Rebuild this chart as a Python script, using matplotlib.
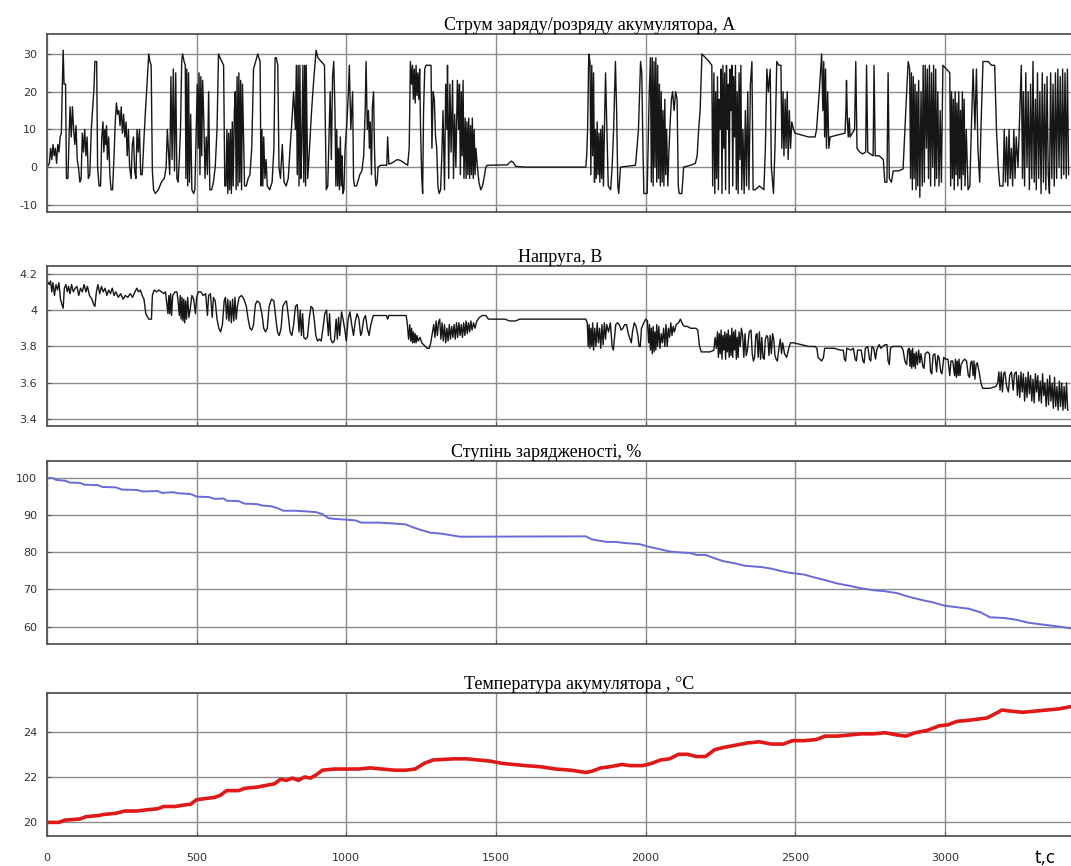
import numpy as np
import matplotlib
matplotlib.use("Agg")
import matplotlib.pyplot as plt

plt.rcParams['axes.unicode_minus'] = False

# battery test log
# current, A  (t, value)
current_pts = [
    (0, 0), (8, 1), (12, 5), (16, 2), (20, 6), (24, 3), (28, 5), (32, 1), (36, 6), (40, 4), (44, 8), (48, 9),
    (51, 21), (54, 31), (57, 22), (62, 22), (65, -3), (70, -3), (74, 9), (77, 16), (81, 8), (85, 16), (89, 10),
    (93, 6), (97, 11), (101, 2), (105, 0), (110, -4), (114, -3), (118, 9), (122, 4), (126, 10), (130, 3),
    (134, 8), (138, -3), (143, -2), (148, 10), (152, 15), (157, 21), (160, 28), (166, 28), (169, 0), (174, -5),
    (179, -5), (183, 8), (187, 12), (190, 4), (193, 10), (196, 6), (199, 11), (202, 2), (206, 8), (210, -2),
    (214, -6), (219, -6), (224, 3), (228, 12), (232, 17), (236, 14), (240, 15), (244, 11), (248, 16), (252, 9),
    (256, 14), (260, 8), (264, 12), (268, 3), (272, 10), (276, 0), (281, -3), (285, 6), (289, 8), (293, -1),
    (297, -3), (301, 10), (305, 4), (309, 10), (313, -2), (318, -2), (323, 6), (329, 15), (335, 23), (340, 30),
    (344, 28), (348, 27), (352, -1), (356, -6), (362, -7), (372, -6), (382, -4), (392, -3), (398, 0), (402, 10),
    (406, 4), (410, -2), (414, 24), (418, 2), (422, 26), (426, -1), (430, 25), (434, -3), (438, -4), (442, 2),
    (446, 10), (450, 28), (453, 30), (458, 28), (462, 27), (464, -3), (467, 26), (470, -5), (473, 25), (476, -4),
    (480, 14), (484, -6), (490, -7), (494, -6), (498, 8), (502, 22), (505, 5), (508, 25), (511, -2), (514, 24),
    (517, 3), (520, 23), (524, 12), (528, -3), (532, 8), (536, -2), (540, 20), (544, -6), (550, -6), (556, -4),
    (562, 0), (568, 10), (573, 30), (578, 29), (584, 28), (590, 27), (594, -5), (598, -5), (601, 10), (604, -7),
    (607, 9), (610, -6), (613, 10), (616, -7), (619, 12), (622, -5), (626, 15), (629, 20), (632, -6), (635, 24),
    (638, -5), (641, 25), (644, -4), (647, 23), (650, -6), (653, 22), (656, 10), (660, -5), (666, -5), (672, -3),
    (678, -2), (684, 5), (690, 26), (704, 30), (708, 29), (712, 28), (715, -5), (718, 10), (721, -5), (724, 8),
    (728, -3), (732, 2), (736, -5), (744, -6), (752, -4), (758, 5), (762, 29), (766, 29), (771, 27), (775, 0),
    (780, -3), (786, 6), (792, -4), (799, -5), (806, -3), (812, 5), (818, 12), (824, 20), (830, 10), (833, 27),
    (836, -2), (839, 27), (842, -5), (845, 27), (848, -3), (851, 5), (855, 27), (858, -4), (861, 27), (864, -5),
    (866, 27), (871, -3), (877, 5), (884, 15), (890, 22), (895, 27), (899, 31), (905, 29), (916, 28), (927, 27),
    (930, 10), (933, -6), (938, -5), (942, 8), (946, 20), (950, 2), (954, 24), (958, 28), (962, 15), (965, -5),
    (968, 10), (971, -5), (974, 5), (977, -6), (980, 8), (983, -5), (986, 3), (988, -7), (992, -6), (996, 5),
    (1002, 12), (1007, 20), (1010, 27), (1015, 10), (1021, 20), (1024, -3), (1027, -5), (1034, -5), (1038, -4),
    (1045, -2), (1052, -1), (1058, 3), (1063, 15), (1066, 28), (1070, 10), (1074, 15), (1077, 5), (1080, 12),
    (1084, -2), (1087, 16), (1091, 20), (1094, 5), (1097, -3), (1099, -5), (1103, -4), (1106, 0), (1115, 0.5),
    (1135, 0.5), (1138, 8), (1142, 0.8), (1150, 1), (1160, 1.5), (1170, 2), (1180, 1.8), (1195, 1), (1205, 0.5),
    (1210, 5), (1214, 28), (1218, 22), (1221, 27), (1224, 18), (1227, 26), (1230, 17), (1233, 27), (1236, 19),
    (1239, 25), (1242, 18), (1245, 26), (1248, 10), (1252, -3), (1255, -7), (1258, 15), (1262, 26), (1266, 27),
    (1283, 27), (1286, 5), (1290, 20), (1294, 18), (1298, 8), (1302, 5), (1306, -5), (1310, -7), (1315, -6),
    (1319, 3), (1323, 15), (1328, -6), (1332, 22), (1336, 10), (1338, 27), (1342, -3), (1346, 22), (1350, 4),
    (1355, 23), (1358, -3), (1362, 14), (1366, 0), (1371, 23), (1375, 10), (1378, 22), (1381, -2), (1384, 20),
    (1387, 3), (1390, 23), (1393, -3), (1397, 13), (1400, -3), (1403, 12), (1406, -2), (1409, 13), (1412, -3),
    (1415, 11), (1418, -2), (1421, 13), (1424, -3), (1427, 10), (1430, -2), (1433, 5), (1438, 0), (1443, -4),
    (1449, -6), (1455, -5), (1462, -2), (1466, 0), (1471, 0.5), (1538, 0.6), (1545, 1.2), (1552, 1.6),
    (1558, 1.2), (1566, 0.2), (1600, 0), (1800, 0),
    (1803, 3), (1806, 10), (1810, 30), (1814, 28), (1817, -2), (1820, 27), (1823, 3), (1826, 25), (1829, -4),
    (1832, 10), (1835, -3), (1838, 12), (1841, -2), (1844, 9), (1847, -4), (1850, 10), (1853, -3), (1856, 11),
    (1859, -5), (1862, 9), (1866, 25), (1870, 12), (1875, -5), (1883, -6), (1888, 0), (1893, 10), (1899, 28),
    (1903, 15), (1907, -5), (1910, -7), (1916, 0), (1966, 0.5), (1971, 5), (1976, 10), (1980, 20), (1983, 28),
    (1987, 25), (1991, 5), (1994, -7), (2005, -7), (2008, 5), (2012, 20), (2016, 29), (2019, -4), (2022, 29),
    (2025, -5), (2028, 28), (2031, 0), (2034, 29), (2037, -4), (2040, 27), (2043, -3), (2046, 22), (2049, -5),
    (2052, 20), (2055, -4), (2058, 15), (2061, -5), (2064, 18), (2067, -2), (2070, 10), (2074, -5), (2078, 5),
    (2082, 12), (2086, 18), (2090, 20), (2095, 15), (2100, 20), (2105, 18), (2109, -5), (2112, -7), (2121, -7),
    (2127, 0), (2150, 0.5), (2166, 1), (2172, 3), (2177, 10), (2182, 15), (2188, 30), (2200, 29), (2212, 28),
    (2221, 27), (2224, -5), (2228, 25), (2231, -7), (2234, 20), (2237, -3), (2240, 24), (2243, -6), (2246, 18),
    (2249, 10), (2252, 26), (2255, -7), (2258, 27), (2261, 5), (2264, 25), (2267, -6), (2270, 27), (2273, 10),
    (2276, 22), (2279, -7), (2282, 26), (2285, 15), (2288, 27), (2291, -5), (2294, 24), (2297, 8), (2300, 27),
    (2303, -6), (2306, 20), (2309, -7), (2312, 25), (2315, 2), (2318, 27), (2321, -6), (2325, 10), (2329, -7),
    (2333, 15), (2337, -5), (2341, 20), (2345, -6), (2350, 22), (2355, 28), (2359, -6), (2366, -6), (2380, -5),
    (2395, -6), (2400, 5), (2405, 26), (2410, 20), (2416, 26), (2420, 0), (2427, -7), (2432, 5), (2438, 28),
    (2445, 27), (2452, 27), (2455, 5), (2459, 20), (2462, 3), (2466, 18), (2469, 5), (2473, 20), (2476, 2),
    (2480, 15), (2484, 5), (2488, 12), (2494, 10), (2499, 9), (2544, 8), (2566, 8), (2571, 10), (2580, 20),
    (2588, 30), (2592, 15), (2595, 28), (2598, 8), (2601, 26), (2604, 5), (2608, 20), (2612, 5), (2616, 8),
    (2640, 8.5), (2666, 9), (2669, 15), (2671, 23), (2674, 12), (2677, 8), (2680, 13), (2683, 8), (2690, 9),
    (2698, 10), (2702, 28), (2706, 5), (2715, 4), (2725, 3.5), (2735, 4), (2738, 27), (2742, 4), (2750, 3.5),
    (2760, 3), (2763, 27), (2767, 3), (2780, 3), (2794, 2), (2799, -4), (2806, -4), (2810, 25), (2814, -3),
    (2821, -4), (2827, -1), (2845, -1), (2860, -0.5), (2866, 10), (2872, 20), (2877, 28), (2882, 26), (2885, -3),
    (2888, 25), (2891, -6), (2894, 24), (2897, -3), (2900, 22), (2903, -6), (2906, 20), (2909, -5), (2912, 23),
    (2916, -8), (2920, 20), (2924, -5), (2927, 27), (2931, -4), (2934, 27), (2938, 5), (2941, 26), (2945, -3),
    (2948, 27), (2952, -5), (2955, 25), (2959, 0), (2962, 27), (2966, -5), (2969, 26), (2972, -3), (2976, 20),
    (2980, -5), (2984, 15), (2988, -4), (2993, 27), (3005, 26), (3016, 25), (3019, -5), (3022, 20), (3025, -3),
    (3028, 18), (3031, -6), (3034, 20), (3037, -2), (3040, 17), (3043, -5), (3046, 20), (3049, -3), (3052, 15),
    (3055, -6), (3058, 20), (3061, -2), (3064, 18), (3067, -5), (3071, 10), (3077, -6), (3083, -5), (3088, 10),
    (3094, 26), (3100, 10), (3105, 26), (3110, 5), (3116, -4), (3120, 10), (3127, 28), (3145, 28), (3155, 27),
    (3166, 27), (3172, 10), (3178, 0), (3183, -5), (3194, -5), (3198, 10), (3202, -4), (3206, 8), (3210, -5),
    (3214, 10), (3218, -3), (3222, 5), (3226, -5), (3230, 10), (3234, -3), (3238, 8), (3244, 0), (3250, 15),
    (3255, 27), (3259, -3), (3262, 20), (3266, -5), (3270, 25), (3274, 0), (3278, 20), (3282, -6), (3286, 22),
    (3290, -3), (3294, 28), (3298, -4), (3302, 18), (3305, -6), (3309, 25), (3313, -3), (3317, 20), (3321, -7),
    (3325, 25), (3329, -4), (3333, 22), (3337, -6), (3341, 24), (3345, -2), (3349, -7), (3353, 25), (3357, -3),
    (3361, 22), (3365, -5), (3369, 25), (3373, -3), (3377, 26), (3381, 0), (3385, 24), (3389, -3), (3393, 26),
    (3397, -2), (3401, 25), (3405, -3), (3409, 26), (3413, -2),
]

# terminal voltage, V
voltage_pts = [
    (0, 4.16), (8, 4.14), (12, 4.16), (16, 4.1), (20, 4.15), (25, 4.08), (30, 4.14), (35, 4.11), (40, 4.15),
    (45, 4.06), (50, 4.03), (54, 4.01), (58, 4.12), (63, 4.14), (68, 4.1), (72, 4.13), (77, 4.09), (82, 4.14),
    (88, 4.1), (94, 4.12), (100, 4.13), (106, 4.08), (112, 4.12), (118, 4.1), (124, 4.14), (130, 4.1),
    (135, 4.13), (142, 4.08), (150, 4.06), (156, 4.03), (160, 4.02), (165, 4.1), (170, 4.14), (176, 4.09),
    (182, 4.13), (188, 4.1), (194, 4.12), (200, 4.08), (206, 4.11), (212, 4.09), (218, 4.12), (224, 4.08),
    (230, 4.1), (238, 4.07), (246, 4.09), (254, 4.06), (262, 4.08), (270, 4.07), (278, 4.09), (286, 4.07),
    (294, 4.1), (300, 4.12), (306, 4.1), (312, 4.11), (318, 4.08), (324, 4.06), (330, 3.98), (340, 3.95),
    (349, 3.95), (352, 4.08), (358, 4.11), (366, 4.1), (374, 4.11), (382, 4.1), (390, 4.09), (396, 4.1),
    (400, 4.04), (404, 3.98), (407, 4.08), (410, 3.98), (413, 4.09), (416, 3.97), (420, 4.08), (428, 4.1),
    (434, 4.1), (438, 4.05), (442, 3.97), (445, 4.08), (448, 3.95), (451, 4.07), (454, 3.94), (457, 4.06),
    (460, 3.93), (463, 4.05), (466, 3.95), (470, 4.07), (474, 3.96), (478, 4.0), (484, 4.08), (490, 4.06),
    (496, 3.98), (500, 4.07), (506, 4.1), (514, 4.1), (522, 4.08), (530, 4.09), (536, 3.97), (540, 4.08),
    (546, 4.09), (552, 3.96), (556, 4.07), (562, 4.05), (568, 3.95), (574, 3.9), (580, 3.88), (586, 3.92),
    (592, 4.05), (596, 4.07), (600, 3.95), (604, 4.06), (608, 3.94), (612, 4.05), (616, 3.93), (620, 4.06),
    (624, 3.94), (628, 4.07), (632, 3.95), (636, 4.02), (642, 4.07), (650, 4.08), (658, 4.06), (666, 4.02),
    (672, 3.95), (678, 3.9), (684, 3.89), (690, 3.92), (696, 4.03), (702, 4.05), (710, 4.04), (718, 3.98),
    (724, 3.9), (730, 3.88), (736, 3.9), (742, 4.02), (750, 4.06), (758, 4.05), (764, 3.96), (770, 3.88),
    (776, 3.86), (782, 3.9), (788, 4.02), (794, 4.04), (800, 4.05), (806, 3.97), (812, 3.88), (818, 3.86),
    (824, 3.92), (830, 4.02), (836, 4.03), (842, 3.88), (846, 4.0), (850, 3.86), (854, 3.98), (858, 3.85),
    (864, 3.84), (870, 3.85), (876, 3.95), (882, 4.02), (888, 4.01), (894, 3.93), (898, 3.86), (904, 3.83),
    (910, 3.84), (916, 3.83), (922, 3.9), (928, 3.98), (934, 4.0), (940, 3.86), (944, 3.98), (948, 3.84),
    (954, 3.82), (960, 3.83), (966, 3.95), (970, 3.84), (974, 3.96), (978, 3.86), (984, 3.99), (990, 3.94),
    (996, 3.88), (1000, 3.83), (1006, 3.95), (1012, 3.99), (1018, 3.92), (1024, 3.86), (1030, 3.94),
    (1036, 3.98), (1042, 3.95), (1048, 3.86), (1052, 3.88), (1058, 3.95), (1064, 3.97), (1070, 3.9),
    (1076, 3.86), (1082, 3.92), (1090, 3.97), (1110, 3.97), (1134, 3.97), (1138, 3.95), (1142, 3.97),
    (1200, 3.97), (1204, 3.92), (1208, 3.84), (1212, 3.92), (1215, 3.83), (1218, 3.9), (1221, 3.82),
    (1224, 3.88), (1227, 3.82), (1230, 3.87), (1233, 3.82), (1236, 3.86), (1240, 3.83), (1246, 3.85),
    (1252, 3.82), (1258, 3.81), (1264, 3.8), (1270, 3.79), (1277, 3.79), (1282, 3.82), (1288, 3.88),
    (1292, 3.92), (1296, 3.85), (1300, 3.94), (1304, 3.86), (1308, 3.93), (1312, 3.95), (1316, 3.84),
    (1320, 3.93), (1324, 3.83), (1328, 3.92), (1332, 3.82), (1336, 3.9), (1340, 3.83), (1344, 3.92),
    (1348, 3.84), (1352, 3.91), (1356, 3.85), (1360, 3.92), (1364, 3.84), (1368, 3.93), (1372, 3.85),
    (1376, 3.93), (1380, 3.86), (1384, 3.92), (1388, 3.85), (1392, 3.93), (1396, 3.86), (1400, 3.94),
    (1404, 3.87), (1408, 3.93), (1412, 3.88), (1416, 3.94), (1420, 3.89), (1425, 3.93), (1430, 3.9),
    (1436, 3.94), (1445, 3.96), (1455, 3.97), (1466, 3.97), (1475, 3.95), (1530, 3.95), (1545, 3.94),
    (1565, 3.94), (1580, 3.95), (1800, 3.95),
    (1805, 3.93), (1808, 3.8), (1811, 3.92), (1814, 3.79), (1817, 3.9), (1820, 3.8), (1823, 3.93), (1826, 3.78),
    (1830, 3.9), (1834, 3.8), (1838, 3.93), (1842, 3.82), (1846, 3.9), (1850, 3.79), (1854, 3.92), (1858, 3.81),
    (1862, 3.93), (1866, 3.84), (1870, 3.92), (1876, 3.88), (1882, 3.93), (1888, 3.8), (1892, 3.78),
    (1896, 3.85), (1900, 3.92), (1906, 3.93), (1912, 3.92), (1918, 3.89), (1924, 3.9), (1930, 3.92),
    (1936, 3.92), (1942, 3.87), (1948, 3.84), (1952, 3.82), (1956, 3.88), (1962, 3.93), (1968, 3.91),
    (1974, 3.86), (1978, 3.8), (1982, 3.8), (1986, 3.9), (1994, 3.93), (2000, 3.95), (2006, 3.94), (2010, 3.82),
    (2013, 3.92), (2016, 3.78), (2019, 3.9), (2022, 3.76), (2025, 3.91), (2028, 3.77), (2031, 3.88),
    (2034, 3.78), (2037, 3.92), (2040, 3.8), (2044, 3.91), (2048, 3.79), (2052, 3.87), (2056, 3.82),
    (2060, 3.9), (2064, 3.8), (2068, 3.92), (2072, 3.8), (2076, 3.9), (2080, 3.85), (2084, 3.93), (2088, 3.86),
    (2092, 3.91), (2096, 3.88), (2102, 3.92), (2110, 3.93), (2116, 3.95), (2124, 3.92), (2130, 3.91),
    (2140, 3.91), (2150, 3.9), (2160, 3.9), (2168, 3.9), (2174, 3.89), (2180, 3.8), (2186, 3.77), (2200, 3.77),
    (2215, 3.77), (2228, 3.78), (2232, 3.85), (2236, 3.79), (2240, 3.88), (2243, 3.74), (2246, 3.87),
    (2249, 3.76), (2252, 3.89), (2255, 3.73), (2258, 3.86), (2261, 3.78), (2264, 3.88), (2267, 3.73),
    (2270, 3.87), (2273, 3.77), (2276, 3.89), (2279, 3.74), (2282, 3.86), (2285, 3.75), (2288, 3.9),
    (2291, 3.74), (2294, 3.88), (2297, 3.78), (2300, 3.89), (2303, 3.73), (2306, 3.85), (2309, 3.74),
    (2312, 3.88), (2316, 3.8), (2320, 3.9), (2324, 3.86), (2328, 3.74), (2332, 3.87), (2336, 3.75),
    (2340, 3.78), (2346, 3.88), (2352, 3.89), (2356, 3.76), (2360, 3.72), (2364, 3.74), (2368, 3.86),
    (2372, 3.87), (2376, 3.74), (2380, 3.88), (2384, 3.73), (2388, 3.85), (2392, 3.74), (2396, 3.73),
    (2400, 3.84), (2404, 3.86), (2408, 3.85), (2412, 3.75), (2416, 3.86), (2420, 3.76), (2424, 3.87),
    (2428, 3.84), (2432, 3.75), (2436, 3.73), (2440, 3.72), (2446, 3.8), (2450, 3.84), (2454, 3.76),
    (2458, 3.82), (2464, 3.76), (2471, 3.74), (2478, 3.79), (2484, 3.82), (2494, 3.82), (2520, 3.81),
    (2545, 3.8), (2566, 3.8), (2572, 3.79), (2576, 3.74), (2582, 3.73), (2588, 3.72), (2594, 3.74),
    (2598, 3.79), (2610, 3.79), (2630, 3.79), (2650, 3.78), (2660, 3.78), (2664, 3.73), (2668, 3.72),
    (2672, 3.79), (2686, 3.78), (2694, 3.79), (2700, 3.73), (2704, 3.72), (2708, 3.78), (2720, 3.78),
    (2726, 3.72), (2730, 3.71), (2734, 3.79), (2742, 3.8), (2748, 3.73), (2752, 3.72), (2756, 3.8),
    (2762, 3.79), (2768, 3.73), (2772, 3.78), (2780, 3.81), (2786, 3.79), (2792, 3.8), (2800, 3.81),
    (2806, 3.81), (2810, 3.72), (2814, 3.7), (2818, 3.79), (2824, 3.8), (2836, 3.8), (2848, 3.8), (2854, 3.8),
    (2860, 3.78), (2866, 3.72), (2872, 3.7), (2876, 3.78), (2880, 3.79), (2883, 3.69), (2886, 3.78),
    (2889, 3.68), (2892, 3.79), (2895, 3.69), (2898, 3.76), (2901, 3.68), (2904, 3.77), (2908, 3.7),
    (2912, 3.78), (2916, 3.71), (2920, 3.76), (2926, 3.69), (2930, 3.68), (2934, 3.76), (2942, 3.77),
    (2948, 3.76), (2952, 3.66), (2956, 3.65), (2960, 3.75), (2966, 3.76), (2972, 3.66), (2976, 3.75),
    (2980, 3.74), (2986, 3.66), (2990, 3.65), (2996, 3.74), (3002, 3.73), (3010, 3.73), (3016, 3.64),
    (3020, 3.72), (3026, 3.72), (3032, 3.64), (3035, 3.73), (3038, 3.63), (3041, 3.72), (3044, 3.64),
    (3047, 3.73), (3050, 3.64), (3054, 3.7), (3060, 3.72), (3066, 3.73), (3072, 3.72), (3078, 3.64),
    (3082, 3.63), (3086, 3.71), (3090, 3.72), (3094, 3.64), (3097, 3.72), (3100, 3.62), (3104, 3.7),
    (3108, 3.71), (3114, 3.66), (3120, 3.6), (3126, 3.57), (3150, 3.57), (3170, 3.58), (3176, 3.6),
    (3180, 3.66), (3184, 3.56), (3188, 3.66), (3192, 3.55), (3196, 3.65), (3200, 3.66), (3206, 3.58),
    (3212, 3.55), (3216, 3.64), (3222, 3.66), (3228, 3.56), (3232, 3.65), (3238, 3.66), (3242, 3.53),
    (3246, 3.64), (3250, 3.52), (3254, 3.66), (3258, 3.55), (3262, 3.65), (3266, 3.5), (3270, 3.63),
    (3274, 3.52), (3278, 3.66), (3282, 3.54), (3286, 3.64), (3290, 3.5), (3294, 3.62), (3298, 3.49),
    (3302, 3.65), (3306, 3.55), (3310, 3.64), (3314, 3.5), (3318, 3.61), (3322, 3.49), (3326, 3.65),
    (3330, 3.53), (3334, 3.6), (3338, 3.47), (3342, 3.62), (3346, 3.48), (3350, 3.64), (3354, 3.5),
    (3358, 3.6), (3362, 3.46), (3366, 3.63), (3370, 3.47), (3374, 3.58), (3378, 3.45), (3382, 3.61),
    (3386, 3.47), (3390, 3.6), (3394, 3.45), (3398, 3.58), (3402, 3.46), (3406, 3.6), (3410, 3.45),
]

# state of charge, %
soc_pts = [
    (0, 100), (20, 100), (30, 99.5), (60, 99.3), (75, 98.8), (110, 98.7), (125, 98.2), (170, 98.1),
    (185, 97.6), (230, 97.5), (250, 96.9), (300, 96.8), (320, 96.4), (370, 96.5), (385, 96.0), (420, 96.2),
    (440, 95.9), (480, 95.7), (500, 95.0), (540, 94.9), (560, 94.4), (590, 94.5), (600, 93.9), (640, 93.8),
    (660, 93.1), (700, 93.0), (720, 92.6), (750, 92.4), (770, 91.9), (790, 91.2), (830, 91.2), (870, 91.0),
    (900, 90.8), (920, 90.3), (940, 89.2), (960, 89.0), (1000, 88.8), (1030, 88.6), (1050, 88.0),
    (1110, 88.0), (1150, 87.8), (1200, 87.5), (1220, 86.8), (1250, 86.0), (1280, 85.3), (1320, 85.0),
    (1350, 84.6), (1380, 84.2), (1800, 84.3), (1820, 83.5), (1840, 83.2), (1870, 82.8), (1900, 82.8),
    (1930, 82.5), (1980, 82.2), (2010, 81.5), (2050, 80.8), (2080, 80.2), (2110, 80.0), (2150, 79.8),
    (2170, 79.3), (2200, 79.3), (2230, 78.4), (2260, 77.6), (2300, 77.0), (2330, 76.4), (2360, 76.2),
    (2390, 76.0), (2420, 75.6), (2450, 75.0), (2480, 74.5), (2530, 74.0), (2560, 73.3), (2600, 72.5),
    (2640, 71.6), (2680, 71.0), (2720, 70.3), (2760, 69.8), (2800, 69.5), (2840, 69.0), (2880, 68.0),
    (2920, 67.2), (2960, 66.5), (3000, 65.6), (3040, 65.2), (3080, 64.8), (3120, 63.8), (3150, 62.5),
    (3200, 62.3), (3240, 61.8), (3280, 61.0), (3330, 60.5), (3380, 60.0), (3420, 59.5),
]

# battery temperature, degC
temp_pts = [
    (0, 20.0), (40, 20.0), (60, 20.1), (110, 20.15), (130, 20.25), (170, 20.3), (190, 20.35), (230, 20.4),
    (260, 20.5), (300, 20.5), (330, 20.55), (370, 20.6), (390, 20.7), (430, 20.7), (450, 20.75), (480, 20.8),
    (500, 21.0), (530, 21.05), (560, 21.1), (580, 21.2), (600, 21.4), (640, 21.4), (660, 21.5), (700, 21.55),
    (720, 21.6), (760, 21.7), (780, 21.9), (800, 21.85), (820, 21.95), (840, 21.85), (860, 22.0), (880, 21.95),
    (900, 22.1), (920, 22.3), (960, 22.35), (1040, 22.35), (1080, 22.4), (1120, 22.35), (1160, 22.3),
    (1200, 22.3), (1230, 22.35), (1260, 22.6), (1290, 22.75), (1360, 22.8), (1400, 22.8), (1440, 22.75),
    (1480, 22.7), (1520, 22.6), (1560, 22.55), (1600, 22.5), (1650, 22.45), (1700, 22.35), (1750, 22.3),
    (1800, 22.2), (1820, 22.25), (1850, 22.4), (1880, 22.45), (1920, 22.55), (1950, 22.5), (1990, 22.5),
    (2020, 22.6), (2050, 22.75), (2080, 22.8), (2110, 23.0), (2140, 23.0), (2170, 22.9), (2200, 22.9),
    (2230, 23.2), (2260, 23.3), (2300, 23.4), (2340, 23.5), (2380, 23.55), (2420, 23.45), (2460, 23.45),
    (2490, 23.6), (2530, 23.6), (2570, 23.65), (2600, 23.8), (2640, 23.8), (2680, 23.85), (2720, 23.9),
    (2760, 23.9), (2800, 23.95), (2840, 23.85), (2870, 23.8), (2900, 23.95), (2940, 24.05), (2980, 24.25),
    (3010, 24.3), (3040, 24.45), (3080, 24.5), (3110, 24.55), (3140, 24.6), (3170, 24.8), (3190, 24.95),
    (3220, 24.9), (3260, 24.85), (3300, 24.9), (3340, 24.95), (3380, 25.0), (3420, 25.1),
]

titles = ["Струм заряду/розряду акумулятора, А", "Напруга, В",
          "Ступінь зарядженості, %", "Температура акумулятора , °C"]
x_ticks = [0, 500, 1000, 1500, 2000, 2500, 3000]

cur_t, cur_a = zip(*current_pts)
vol_t, vol_v = zip(*voltage_pts)
soc_t, soc_v = zip(*soc_pts)
temp_t, temp_v = zip(*temp_pts)

fig = plt.figure(figsize=(10.71, 8.66), dpi=100)

L = 47 / 1071
W = 1 - L
# (bottom, height) in figure fraction
boxes = [(1 - 212 / 866, 178 / 866), (1 - 426 / 866, 160 / 866),
         (1 - 644 / 866, 183 / 866), (1 - 836 / 866, 143 / 866)]
axes = [fig.add_axes([L, b, W, h]) for b, h in boxes]

axes[0].plot(cur_t, cur_a, color='#161616', lw=1.0)
axes[0].set_ylim(-11.9, 35.3)
axes[0].set_yticks([-10, 0, 10, 20, 30])

axes[1].plot(vol_t, vol_v, color='#161616', lw=1.0)
axes[1].set_ylim(3.363, 4.242)
axes[1].set_yticks([3.4, 3.6, 3.8, 4.0, 4.2])
axes[1].set_yticklabels(['3.4', '3.6', '3.8', '4', '4.2'])

axes[2].plot(soc_t, soc_v, color='#6a6ad8', lw=1.4)
axes[2].set_ylim(55.3, 104.6)
axes[2].set_yticks([60, 70, 80, 90, 100])

axes[3].plot(temp_t, temp_v, color='#e01818', lw=2.6)
axes[3].set_ylim(19.4, 25.7)
axes[3].set_yticks([20, 22, 24])

# title centres (pixels) as in the screenshot
title_x = [590, 560, 546, 579]
for ax, ttl, tx in zip(axes, titles, title_x):
    ax.set_xlim(0, 3421)
    ax.set_xticks(x_ticks)
    ax.grid(True, color='#8c8c8c', lw=1.0)
    ax.set_axisbelow(True)
    ax.tick_params(direction='in', length=3, color='#555555', labelsize=8,
                   labelcolor='#333333', pad=7)
    for s in ['top', 'bottom', 'left']:
        ax.spines[s].set_color('#555555')
        ax.spines[s].set_linewidth(1.3)
    ax.spines['right'].set_visible(False)
    ax.text((tx - 47) / (1071 - 47), 1.0, ttl, transform=ax.transAxes,
            ha='center', va='bottom', fontsize=13, family='Liberation Serif')
    if ax is not axes[3]:
        ax.tick_params(labelbottom=False)

axes[3].tick_params(axis='x', pad=12)
fig.text(1045 / 1071, 1 - 858 / 866, 't,c', ha='center', va='center', fontsize=12)

fig.savefig('out.png', dpi=100)
